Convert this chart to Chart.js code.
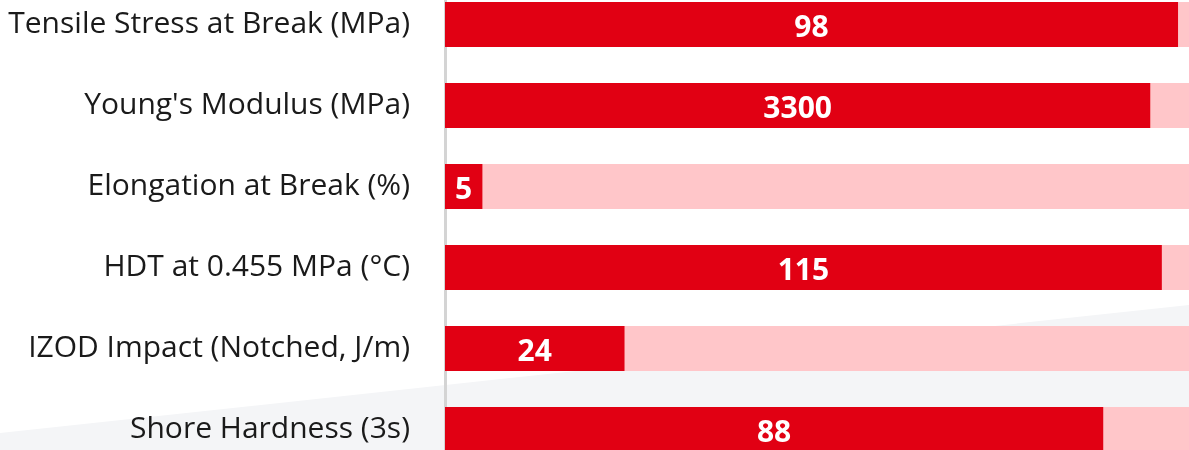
<!DOCTYPE html>
<html>
<head>
<meta charset="utf-8">
<script src="https://cdn.jsdelivr.net/npm/chart.js@4.4.0/dist/chart.umd.min.js"></script>
<style>
    html, body { margin: 0; padding: 0; background: #ffffff; overflow: hidden; }
    body { width: 1189px; height: 450px; position: relative; }
    #bgShape {
        position: absolute; left: 0; top: 0; width: 1189px; height: 450px;
        background: #f4f5f7;
        clip-path: polygon(0 433px, 1189px 305px, 1189px 450px, 0 450px);
    }
    #chartBox { position: absolute; left: 0; top: -16px; width: 1200px; height: 486px; }
</style>
</head>
<body>
<div id="bgShape"></div>
<div id="chartBox"><canvas id="propChart"></canvas></div>
<script>
const properties = [
    'Tensile Stress at Break (MPa)',
    "Young's Modulus (MPa)",
    'Elongation at Break (%)',
    'HDT at 0.455 MPa (°C)',
    'IZOD Impact (Notched, J/m)',
    'Shore Hardness (3s)'
];
const values = [98, 3300, 5, 115, 24, 88];
const scaleMax = [100, 3500, 100, 120, 100, 100];
const fullBar = [100, 100, 100, 100, 100, 100];

const percents = values.map(function (v, i) { return v / scaleMax[i] * 100; });

const valueLabels = {
    id: 'valueLabels',
    afterDatasetsDraw: function (chart) {
        const ctx = chart.ctx;
        const meta = chart.getDatasetMeta(0);
        ctx.save();
        ctx.fillStyle = '#ffffff';
        ctx.font = 'bold 30px "Open Sans"';
        ctx.textAlign = 'center';
        ctx.textBaseline = 'middle';
        meta.data.forEach(function (bar, i) {
            ctx.fillText(String(values[i]), (bar.x + bar.base) / 2, bar.y + 4);
        });
        ctx.restore();
    }
};

function LoadPropertyChart() {
    const ctx = document.getElementById('propChart').getContext('2d');
    new Chart(ctx, {
        type: 'bar',
        data: {
            labels: properties,
            datasets: [{
                data: percents,
                backgroundColor: '#e10013',
                borderWidth: 0,
                grouped: false,
                order: 0,
                barPercentage: 0.556,
                categoryPercentage: 1
            }, {
                data: fullBar,
                backgroundColor: '#ffc6c9',
                borderWidth: 0,
                grouped: false,
                order: 1,
                barPercentage: 0.556,
                categoryPercentage: 1
            }]
        },
        options: {
            indexAxis: 'y',
            responsive: true,
            maintainAspectRatio: false,
            animation: false,
            layout: { padding: { left: 0, right: 7, top: 0, bottom: 0 } },
            plugins: {
                legend: { display: false },
                tooltip: { enabled: false }
            },
            scales: {
                x: {
                    display: false,
                    min: 0,
                    max: 100
                },
                y: {
                    afterFit: function (scale) {
                        scale.width = 445;
                        // tick padding also pads top/bottom, drop that
                        scale.paddingTop = 0;
                        scale.paddingBottom = 0;
                    },
                    grid: { display: false, drawTicks: false },
                    border: { display: true, color: '#d4d4d4', width: 3 },
                    ticks: {
                        padding: 35,
                        color: '#1a1a1a',
                        font: { family: '"Open Sans"', size: 30 }
                    }
                }
            }
        },
        plugins: [valueLabels]
    });
}

LoadPropertyChart();
</script>
</body>
</html>
